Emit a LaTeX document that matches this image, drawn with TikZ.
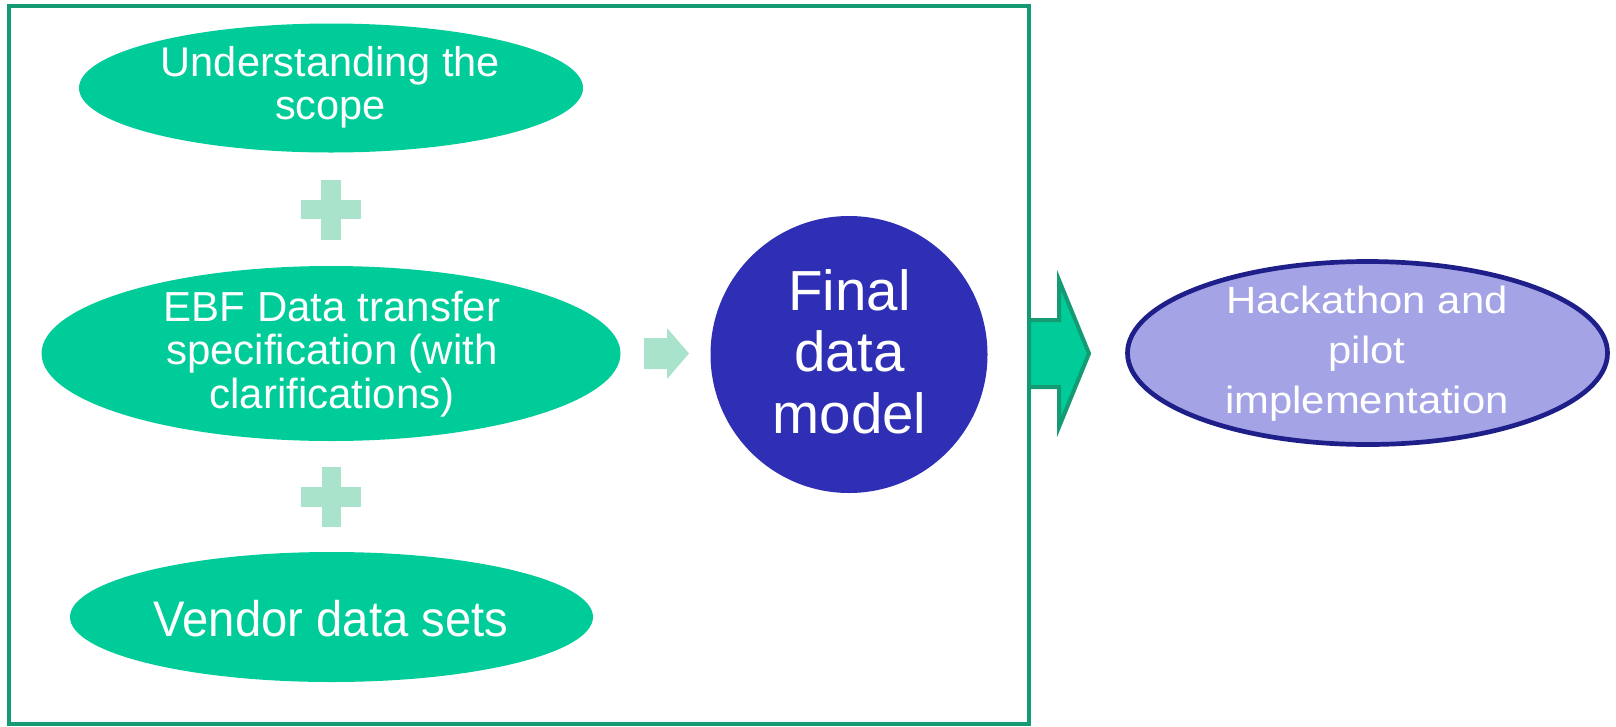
\documentclass[tikz,border=0pt]{standalone}
\usepackage{fontspec}
\setmainfont{Liberation Sans}
\usepackage{graphicx}
\usetikzlibrary{shapes.geometric}

\definecolor{stepgreen}{HTML}{00CC99}
\definecolor{framegreen}{HTML}{159B74}
\definecolor{plusgreen}{HTML}{AAE3CC}
\definecolor{modelblue}{HTML}{2F2FB5}
\definecolor{pilotfill}{HTML}{A3A3E6}
\definecolor{pilotline}{HTML}{1F1F8A}

% centred block of lines, optionally stretched horizontally
\newcommand\blocklines[2]{\scalebox{#1}[1]{\begin{tabular}[t]{@{}c@{}}#2\end{tabular}}}

\begin{document}
\begin{tikzpicture}[x=1pt,y=-1pt,
  stepshape/.style={ellipse, fill=stepgreen, draw=none, inner sep=0pt},
  labeltext/.style={text=white, anchor=base, inner sep=0pt},
  pluscross/.pic={
    \fill[plusgreen] (-30,-9.75) rectangle (30,9.75);
    \fill[plusgreen] (-9.75,-30) rectangle (9.75,30);
  }]
\useasboundingbox (0,0) rectangle (1616,726);

% outer frame
\node[draw=framegreen, line width=4.5pt, minimum width=1020pt,
      minimum height=718pt, inner sep=0pt] (frame) at (519,365) {};

% input ellipses
\node[stepshape, minimum width=504pt, minimum height=129pt] (scope) at (331,88) {};
\node[stepshape, minimum width=579pt, minimum height=175pt] (ebf) at (331,353.5) {};
\node[stepshape, minimum width=523pt, minimum height=130pt] (vendor) at (331.5,617) {};

\node[labeltext, font=\fontsize{41.5}{43}\selectfont] (scopetext) at (330.5,76.7)
  {\blocklines{1}{Understanding the\\scope}};
\node[labeltext, font=\fontsize{42}{42.5}\selectfont] (ebftext) at (332,321.7)
  {\blocklines{1}{EBF Data transfer\\specification (with\\clarifications)}};
\node[labeltext, font=\fontsize{50}{50}\selectfont] (vendortext) at (331,636.7)
  {\blocklines{0.945}{Vendor data sets}};

% plus signs between the inputs
\pic at (331,209.5) {pluscross};
\pic at (331.3,497) {pluscross};

% small arrow into the model
\fill[plusgreen] (644,338) -- (667,338) -- (667,328) -- (689,353.5)
  -- (667,379) -- (667,369) -- (644,369) -- cycle;

% final data model
\node[circle, fill=modelblue, minimum size=277pt, inner sep=0pt] (model) at (849,354.5) {};
\node[labeltext, font=\fontsize{56.5}{61.7}\selectfont] (modeltext) at (849.5,310)
  {\blocklines{1}{Final\\data\\model}};

% big arrow out of the frame
\filldraw[fill=stepgreen, draw=framegreen, line width=4pt, line join=miter]
  (1029,320) -- (1059,320) -- (1059,280) -- (1089,353.5) -- (1059,427)
  -- (1059,387) -- (1029,387) -- cycle;

% hackathon and pilot
\node[ellipse, fill=pilotfill, draw=pilotline, line width=4.7pt,
      minimum width=480pt, minimum height=183pt, inner sep=0pt] (pilot) at (1367.5,353) {};
\node[labeltext, font=\fontsize{38}{50}\selectfont] (pilottext) at (1367,313.3)
  {\blocklines{1.1}{Hackathon and\\pilot\\implementation}};
\end{tikzpicture}
\end{document}
